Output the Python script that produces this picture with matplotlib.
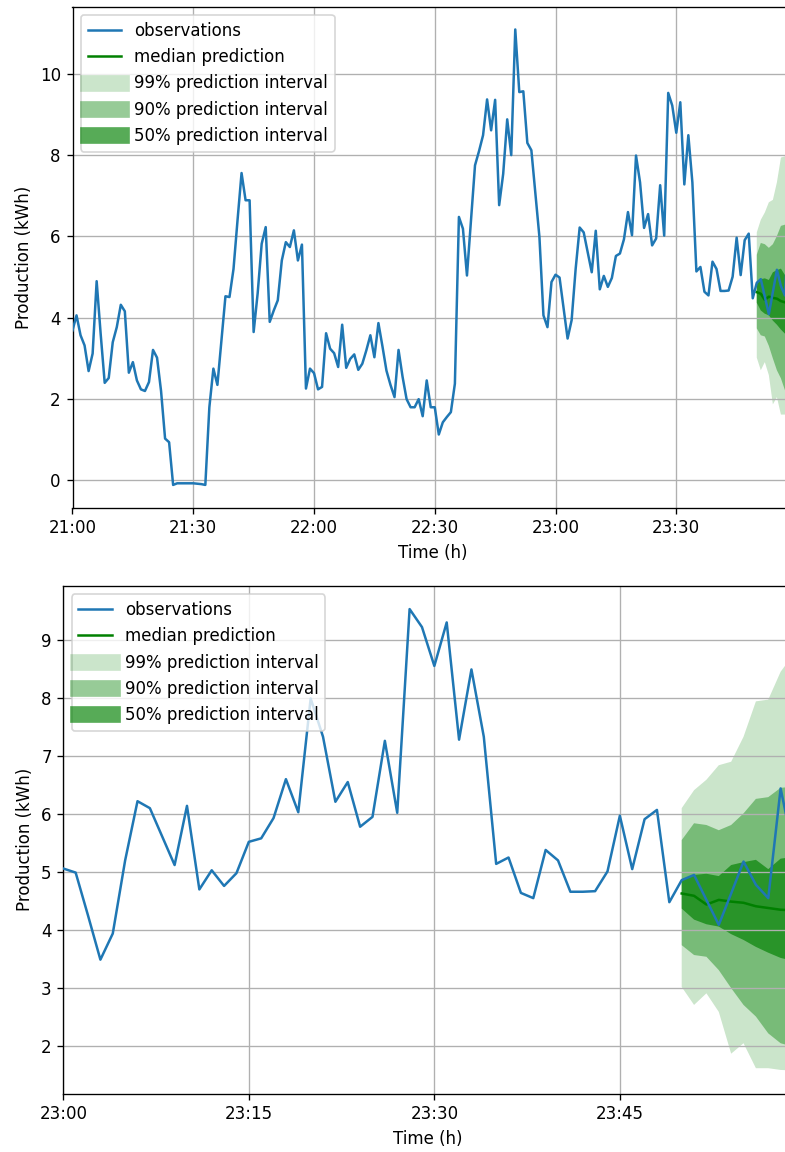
import numpy as np
import pandas as pd
import matplotlib
matplotlib.use("Agg")
import matplotlib.pyplot as plt
import matplotlib.dates as mdates
from matplotlib.lines import Line2D

# observations, one per minute, 21:00 - 22:59
obs_early = [
    3.69, 4.06, 3.57, 3.32, 2.69, 3.12, 4.90, 3.60, 2.40, 2.52,
    3.40, 3.77, 4.32, 4.16, 2.65, 2.91, 2.46, 2.24, 2.20, 2.42,
    3.21, 3.02, 2.20, 1.03, 0.94, -0.11, -0.07, -0.07, -0.07, -0.07,
    -0.07, -0.08, -0.09, -0.11, 1.80, 2.75, 2.35, 3.45, 4.53, 4.51,
    5.20, 6.40, 7.56, 6.89, 6.89, 3.65, 4.60, 5.82, 6.23, 3.90,
    4.18, 4.43, 5.41, 5.86, 5.74, 6.15, 5.41, 5.80, 2.26, 2.75,
    2.64, 2.24, 2.30, 3.62, 3.24, 3.13, 2.79, 3.83, 2.77, 2.99,
    3.10, 2.72, 2.87, 3.20, 3.57, 3.03, 3.87, 3.30, 2.70, 2.35,
    2.05, 3.21, 2.55, 2.00, 1.80, 1.80, 2.00, 1.58, 2.46, 1.80,
    1.80, 1.13, 1.43, 1.56, 1.68, 2.38, 6.48, 6.19, 5.04, 6.40,
    7.75, 8.10, 8.49, 9.37, 8.61, 9.36, 6.77, 7.54, 8.88, 8.00,
    11.09, 9.55, 9.57, 8.30, 8.12, 7.05, 5.99, 4.06, 3.77, 4.88,
]
# observations 23:00 - 23:59
obs_late = [
    5.06, 4.99, 4.25, 3.49, 3.94, 5.20, 6.22, 6.10, 5.61, 5.12,
    6.14, 4.70, 5.03, 4.76, 4.98, 5.52, 5.58, 5.93, 6.60, 6.03,
    7.99, 7.33, 6.21, 6.55, 5.78, 5.95, 7.26, 6.02, 9.53, 9.22,
    8.55, 9.30, 7.28, 8.49, 7.33, 5.14, 5.25, 4.64, 4.55, 5.38,
    5.20, 4.66, 4.66, 4.67, 5.01, 5.97, 5.05, 5.91, 6.07, 4.48,
    4.86, 4.95, 4.52, 4.09, 4.63, 5.18, 4.78, 4.55, 6.44, 5.40,
]

# forecast 23:50 - 23:59 (quantiles)
q_median = [4.63, 4.59, 4.44, 4.52, 4.49, 4.47, 4.41, 4.38, 4.35, 4.34]
q25 = [4.37, 4.18, 4.10, 4.06, 3.93, 3.83, 3.71, 3.61, 3.52, 3.47]
q75 = [4.87, 4.95, 4.97, 4.93, 5.12, 5.17, 5.21, 5.05, 5.23, 5.26]
q05 = [3.74, 3.57, 3.54, 3.31, 3.00, 2.71, 2.51, 2.22, 2.05, 1.99]
q95 = [5.55, 5.84, 5.81, 5.72, 5.81, 6.01, 6.26, 6.29, 6.45, 6.47]
q005 = [3.02, 2.71, 2.91, 2.59, 1.87, 2.05, 1.62, 1.62, 1.59, 1.58]
q995 = [6.10, 6.41, 6.59, 6.84, 6.90, 7.33, 7.94, 7.97, 8.45, 8.74]

obs = np.array(obs_early + obs_late)
t_obs = pd.date_range("2021-01-01 21:00", periods=len(obs), freq="min")
t_fc = pd.date_range("2021-01-01 23:50", periods=len(q_median), freq="min")

bands = [  # (label, lower percentile, lower, upper)
    ("99% prediction interval", 0.5, q005, q995),
    ("90% prediction interval", 5.0, q05, q95),
    ("50% prediction interval", 25.0, q25, q75),
]


def alpha_for(p):
    return (p / 100.0) ** 0.3


def draw(ax, start, tick_minutes):
    sel = t_obs >= start
    for label, p, lo, hi in bands:
        ax.fill_between(t_fc, lo, hi, facecolor="g", alpha=alpha_for(p),
                        interpolate=True, linewidth=0)
    med, = ax.plot(t_fc, q_median, color="g", ls="-", label="median prediction")
    ob, = ax.plot(t_obs[sel], obs[sel], color="C0", label="observations", zorder=3)
    handles = [ob, med] + [Line2D([], [], color="g", alpha=alpha_for(p), lw=10, label=label)
                           for label, p, lo, hi in bands]
    ax.legend(handles=handles, loc="upper left")
    ax.set_xlim(t_obs[sel][0], t_obs[-1])
    ax.xaxis.set_major_locator(mdates.MinuteLocator(byminute=tick_minutes))
    ax.xaxis.set_major_formatter(mdates.DateFormatter("%H:%M"))
    ax.grid(True)
    ax.set_xlabel("Time (h)")
    ax.set_ylabel("Production (kWh)")


fig = plt.figure(figsize=(785 / 120, 1152 / 120), dpi=120)
ax1 = fig.add_axes([72.5 / 785, 1 - 507.7 / 1152, (793 - 72.5) / 785, 501 / 1152])
ax2 = fig.add_axes([63.3 / 785, 1 - 1093.6 / 1152, (793 - 63.3) / 785, 507.6 / 1152])

draw(ax1, pd.Timestamp("2021-01-01 21:00"), [0, 30])
draw(ax2, pd.Timestamp("2021-01-01 23:00"), [0, 15, 30, 45])

fig.savefig("out.png", dpi=120)
